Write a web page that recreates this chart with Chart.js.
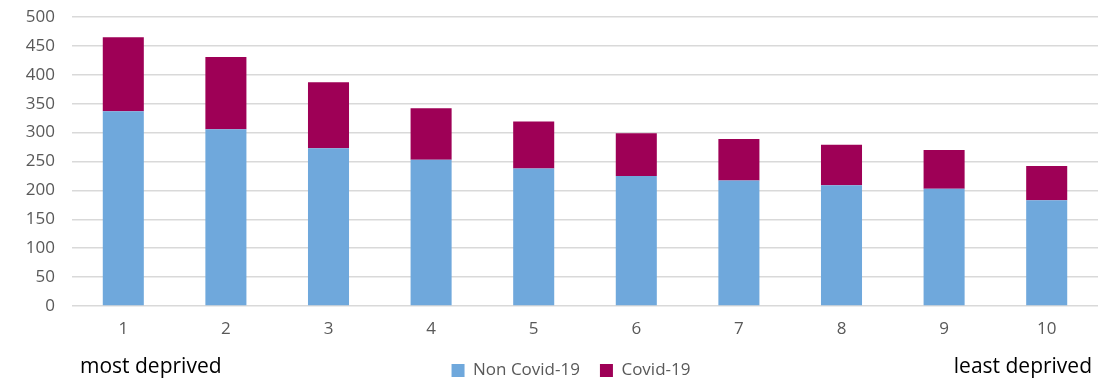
<!DOCTYPE html>
<html>
<head>
<meta charset="utf-8">
<script src="https://cdn.jsdelivr.net/npm/chart.js@4"></script>
<style>
  html, body { margin: 0; padding: 0; background: #ffffff; }
  #wrap { width: 1113px; height: 378px; }
</style>
</head>
<body>
<div id="wrap"><canvas id="chart" width="1113" height="378"></canvas></div>
<script>
// Deprivation deciles, 1 = most deprived, 10 = least deprived
const deciles = ['1', '2', '3', '4', '5', '6', '7', '8', '9', '10'];
const nonCovid = [337, 306, 273, 253, 238, 225, 217, 209, 203, 183];
const covid = [128, 125, 114, 89, 81, 74, 72, 70, 67, 59];
const yTicks = [0, 50, 100, 150, 200, 250, 300, 350, 400, 450, 500];
const endLabels = ['most deprived', 'least deprived'];

const FONT = '"Open Sans", "Liberation Sans", sans-serif';

// Writes the decile-direction captions under the axis
const endCaptions = {
  id: 'endCaptions',
  afterDraw(chart) {
    const ctx = chart.ctx;
    ctx.save();
    ctx.font = '21px ' + FONT;
    ctx.fillStyle = '#000000';
    ctx.textBaseline = 'middle';
    ctx.textAlign = 'left';
    ctx.fillText(endLabels[0], 80, 367);
    ctx.textAlign = 'right';
    ctx.fillText(endLabels[1], 1092, 367);
    ctx.restore();
  }
};

// Nudges the legend a little right of the canvas centre
const legendShift = {
  id: 'legendShift',
  afterLayout(chart) {
    if (chart.legend) {
      chart.legend.left += 22;
      chart.legend.right += 22;
    }
  }
};

new Chart(document.getElementById('chart'), {
  type: 'bar',
  data: {
    labels: deciles,
    datasets: [
      { label: 'Non Covid-19', data: nonCovid, backgroundColor: '#6FA8DC', borderWidth: 0 },
      { label: 'Covid-19', data: covid, backgroundColor: '#9E0056', borderWidth: 0 }
    ]
  },
  options: {
    responsive: false,
    animation: false,
    layout: { padding: { top: 17, right: 15, left: 0, bottom: -11 } },
    datasets: { bar: { barPercentage: 0.4, categoryPercentage: 1.0 } },
    scales: {
      x: {
        stacked: true,
        grid: { display: false, drawTicks: false },
        border: { display: false },
        ticks: { color: '#595959', font: { family: FONT, size: 17 }, padding: 13 },
        afterFit(s) { s.height = 36; }
      },
      y: {
        stacked: true,
        min: 0,
        max: 500,
        afterBuildTicks(s) { s.ticks = yTicks.map(v => ({ value: v })); },
        grid: { color: '#d9d9d9', lineWidth: 1.5, drawTicks: false },
        border: { display: false },
        ticks: { color: '#595959', font: { family: FONT, size: 17 }, padding: 17 },
        afterFit(s) { s.width = 72; s.paddingTop = 0; s.paddingBottom = 0; }
      }
    },
    plugins: {
      legend: {
        position: 'bottom',
        labels: {
          color: '#595959',
          font: { family: FONT, size: 17 },
          boxWidth: 13,
          boxHeight: 13,
          padding: 20
        }
      },
      tooltip: { enabled: false }
    }
  },
  plugins: [endCaptions, legendShift]
});
</script>
</body>
</html>
